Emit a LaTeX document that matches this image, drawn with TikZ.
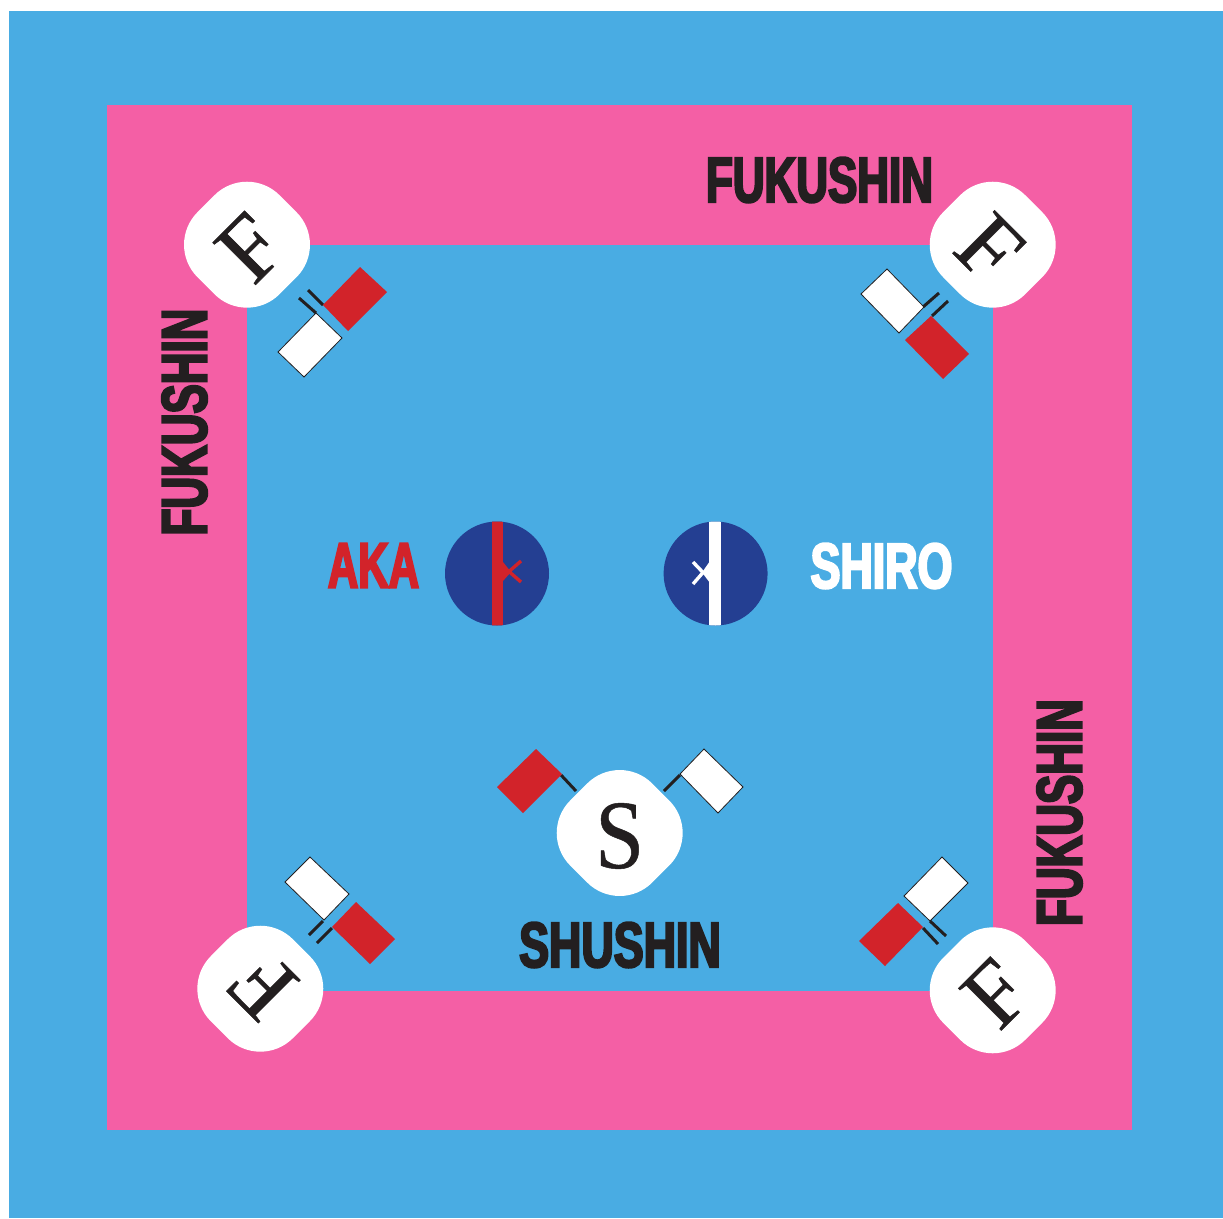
\documentclass[tikz,border=0pt]{standalone}
\usepackage{fontspec}
\setmainfont{Liberation Serif}
\newfontfamily\heavyfont[UprightFont={* Bold},FakeBold=3.4,FakeStretch=0.7]{Liberation Sans}
\newfontfamily\letterfont[FakeBold=0.5]{Liberation Serif}
\definecolor{matblue}{RGB}{73, 172, 227}
\definecolor{matpink}{RGB}{244, 95, 165}
\definecolor{flagred}{RGB}{210, 35, 42}
\definecolor{discblue}{RGB}{36, 63, 146}
\definecolor{inkblack}{RGB}{35, 31, 32}
\tikzset{
  judgebox/.style={fill=white, text=inkblack, rounded corners=46pt, minimum size=116pt, inner sep=0pt, text height=69pt, text depth=0pt, font=\letterfont\fontsize{92}{92}\selectfont},
  heavylabel/.style={inner sep=0pt, font=\heavyfont\fontsize{64}{64}\selectfont},
  disc/.style={circle, fill=discblue, minimum size=104pt, inner sep=0pt},
  redflag/.style={fill=flagred},
  whiteflag/.style={fill=white, draw=inkblack, line width=0.8pt, line join=miter},
  pole/.style={draw=inkblack, line width=3pt}
}
\begin{document}
\begin{tikzpicture}[x=1pt, y=-1pt]
  \useasboundingbox (0,0) rectangle (1223,1218);
  \fill[matblue] (9,11) rectangle (1223,1218);
  \fill[matpink] (107,105) rectangle (1132,1130);
  \fill[matblue] (247,245) rectangle (993,991);

  \node[judgebox, rotate=45] (fukushinNW) at (247,244.7) {F};
  \node[judgebox, rotate=-45] (fukushinNE) at (992.7,244.7) {F};
  \node[judgebox, rotate=135] (fukushinSW) at (260.3,988.7) {F};
  \node[judgebox, rotate=45] (fukushinSE) at (992.7,990.3) {F};
  \node[judgebox, rotate=45] (shushin) at (619.7,833) {};
  \node[inner sep=0pt, text=inkblack, xscale=0.9, transform shape, font=\letterfont\fontsize{98}{98}\selectfont] (shushinS) at (619.7,836) {S};

  \node[heavylabel, text=inkblack, xscale=0.98, transform shape] (labelNE) at (819.5,180) {FUKUSHIN};
  \node[heavylabel, text=inkblack, rotate=90, xscale=0.98, transform shape] (labelW) at (184.5,422) {FUKUSHIN};
  \node[heavylabel, text=inkblack, rotate=90, xscale=0.98, transform shape] (labelE) at (1059.5,812.5) {FUKUSHIN};
  \node[heavylabel, text=inkblack] (labelS) at (620,945) {SHUSHIN};
  \node[heavylabel, text=flagred, xscale=0.94, transform shape] (labelAka) at (373.5,565.5) {AKA};
  \node[heavylabel, text=white] (labelShiro) at (881.5,566) {SHIRO};

  \node[disc] (aka) at (497,573.5) {};
  \node[disc] (shiro) at (715.6,573.5) {};
  \begin{scope}
    \clip (aka.center) circle (52);
    \fill[flagred] (491.7,520) rectangle (503,627);
  \end{scope}
  \fill[flagred] (503,562) -- (511,572) -- (503,581) -- cycle;
  \draw[flagred, line width=3.4pt] (521,561) -- (509,571.5) -- (521,582);
  \begin{scope}
    \clip (shiro.center) circle (52);
    \fill[white] (709.3,520) rectangle (721.3,627);
  \end{scope}
  \fill[white] (709.3,562) -- (702,572.5) -- (709.3,582) -- cycle;
  \draw[white, line width=3.4pt] (693,562) -- (703,572.5) -- (693,584);

  \draw[pole] (308,290) -- (323,305);
  \draw[pole] (299,298) -- (316,313);
  \fill[redflag] (360,267) -- (387,292) -- (348,331) -- (323,305) -- cycle;
  \draw[whiteflag] (316,313) -- (342,338) -- (304,377) -- (278,352) -- cycle;

  \draw[pole] (923,307) -- (939,293);
  \draw[pole] (932,316) -- (948,301);
  \draw[whiteflag] (887,269) -- (924,307) -- (899,333) -- (861,294) -- cycle;
  \fill[redflag] (931,316) -- (969,354) -- (943,379) -- (905,340) -- cycle;

  \draw[pole] (323,921) -- (309,935);
  \draw[pole] (332,928) -- (317,943);
  \draw[whiteflag] (310,857) -- (349,894) -- (324,920) -- (285,882) -- cycle;
  \fill[redflag] (356,902) -- (395,939) -- (370,964) -- (332,927) -- cycle;

  \draw[pole] (930,921) -- (946,936);
  \draw[pole] (923,928) -- (938,944);
  \draw[whiteflag] (942,857) -- (968,883) -- (930,921) -- (904,896) -- cycle;
  \fill[redflag] (898,903) -- (923,927) -- (885,966) -- (859,941) -- cycle;

  \draw[pole] (561,775) -- (576,791);
  \draw[pole] (680,775) -- (664,791);
  \fill[redflag] (536,749) -- (562,774) -- (523,813) -- (497,787) -- cycle;
  \draw[whiteflag] (704,749) -- (743,787) -- (718,813) -- (680,774) -- cycle;
\end{tikzpicture}
\end{document}
